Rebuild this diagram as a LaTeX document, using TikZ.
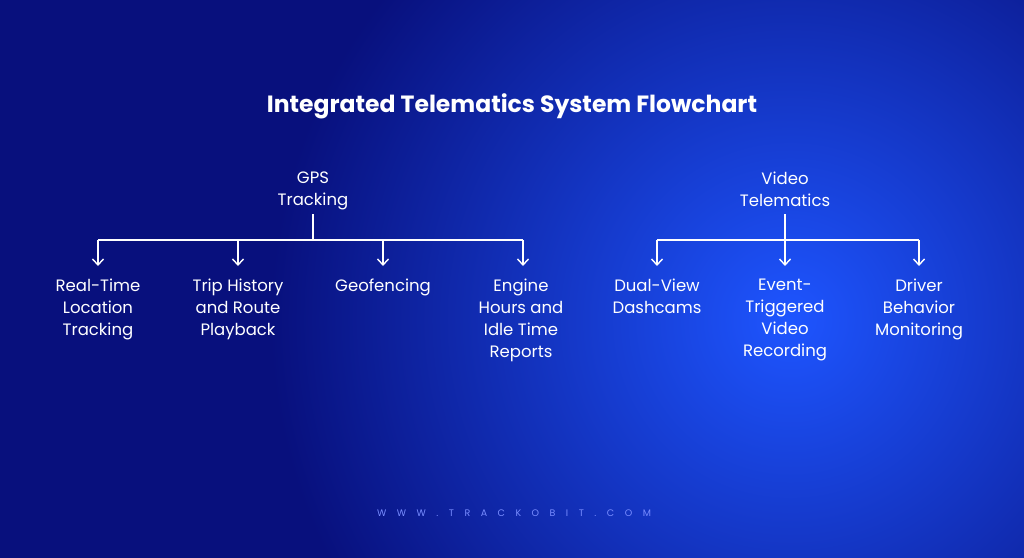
\documentclass[tikz,border=0pt]{standalone}
\usepackage{fontspec}
\setmainfont{Poppins}
\usetikzlibrary{arrows.meta}
\begin{document}
\begin{tikzpicture}[x=1pt,y=-1pt,
  lbl/.style={text=white,align=center,font=\fontsize{16.5}{22}\selectfont,anchor=north,inner sep=0pt},
  con/.style={white,line width=1.4pt},
  arr/.style={con,-{Straight Barb[length=6pt,width=11pt]}}]
\useasboundingbox (0,0) rectangle (1024,557);
\begin{scope}
\clip (0,0) rectangle (1024,557);
\fill[fill={rgb,255:red,8;green,16;blue,125}] (-2,-2) rectangle (1026,559);
\shade[inner color={rgb,255:red,30;green,85;blue,255},outer color={rgb,255:red,8;green,16;blue,125}] (790,320) circle (520);
\end{scope}
\node[text=white,font=\bfseries\fontsize{23.5}{28}\selectfont] (title) at (512,106) {Integrated Telematics System Flowchart};
% GPS
\node[lbl] (gps) at (313,172) {GPS\\Tracking};
\coordinate (gj) at (313,240);
\coordinate (g1) at (98,240); \coordinate (g4) at (523,240);
\node[lbl] (a1) at (98,279) {Real-Time\\Location\\Tracking};
\node[lbl] (a2) at (238,279) {Trip History\\and Route\\Playback};
\node[lbl] (a3) at (383,279) {Geofencing};
\node[lbl] (a4) at (521,279) {Engine\\Hours and\\Idle Time\\Reports};
\draw[con] (313,214) -- (gj);
\draw[con] (g1) -- (g4);
\foreach \n/\x in {a1/98,a2/238,a3/383,a4/523} \draw[arr] (\x,240) -- (\x,266);
% Video
\node[lbl] (vid) at (785,172) {Video\\Telematics};
\coordinate (vj) at (785,240);
\coordinate (v1) at (657,240); \coordinate (v3) at (919,240);
\node[lbl] (b1) at (657,279) {Dual-View\\Dashcams};
\node[lbl] (b2) at (785,279) {Event-\\Triggered\\Video\\Recording};
\node[lbl] (b3) at (919,279) {Driver\\Behavior\\Monitoring};
\draw[con] (785,214) -- (vj);
\draw[con] (v1) -- (v3);
\foreach \n/\x in {b1/657,b2/785,b3/919} \draw[arr] (\x,240) -- (\x,266);
\node[text={rgb,255:red,120;green,140;blue,255},font=\fontsize{9.5}{11}\selectfont] (foot) at (514,513) {W\hspace{10.5pt}W\hspace{10.5pt}W\hspace{10.5pt}.\hspace{10.5pt}T\hspace{10.5pt}R\hspace{10.5pt}A\hspace{10.5pt}C\hspace{10.5pt}K\hspace{10.5pt}O\hspace{10.5pt}B\hspace{10.5pt}I\hspace{10.5pt}T\hspace{10.5pt}.\hspace{10.5pt}C\hspace{10.5pt}O\hspace{10.5pt}M};
\end{tikzpicture}
\end{document}
